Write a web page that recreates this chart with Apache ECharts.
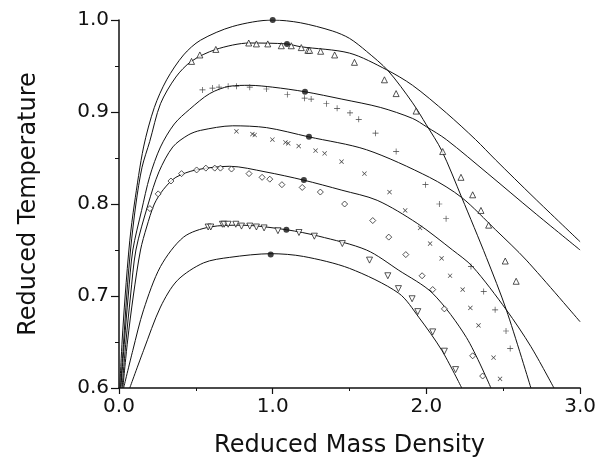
<!DOCTYPE html>
<html>
<head>
<meta charset="utf-8">
<script src="https://cdn.jsdelivr.net/npm/echarts@6/dist/echarts.min.js"></script>
<style>
  html, body { margin: 0; padding: 0; background: #fff; }
  #chart { width: 599px; height: 471px; }
</style>
</head>
<body>
<div id="chart"></div>
<script>
// theory curves, [density, temperature]
const dome1 = [[0.005,0.6],[0.02,0.65],[0.04,0.7],[0.07,0.76],[0.1,0.8],[0.16,0.862],[0.23,0.905],[0.31,0.935],[0.42,0.962],[0.53,0.978],[0.74,0.993],[1.0,1.0],
  [1.18,0.997],[1.39,0.988],[1.5,0.98],[1.61,0.966],[1.75,0.945],[1.91,0.91],[2.0,0.886],[2.1,0.858],[2.23,0.807],[2.39,0.742],[2.52,0.685],[2.68,0.6]];
const dome2 = [[0.01,0.6],[0.03,0.65],[0.05,0.7],[0.075,0.75],[0.11,0.8],[0.15,0.84],[0.2,0.868],[0.27,0.909],[0.37,0.938],[0.47,0.955],[0.63,0.968],[0.85,0.975],[1.09,0.974],
  [1.18,0.971],[1.5,0.964],[1.74,0.946],[1.91,0.929],[2.13,0.899],[2.32,0.87],[2.45,0.848],[2.7,0.807],[3.0,0.759]];
const dome3 = [[0.012,0.6],[0.035,0.65],[0.06,0.7],[0.09,0.75],[0.147,0.793],[0.2,0.83],[0.27,0.862],[0.36,0.887],[0.46,0.903],[0.59,0.92],[0.72,0.928],[0.85,0.929],[1.0,0.927],[1.21,0.922],
  [1.45,0.914],[1.7,0.905],[1.91,0.893],[2.0,0.884],[2.13,0.87],[2.4,0.833],[2.7,0.791],[3.0,0.75]];
const dome4 = [[0.02,0.6],[0.045,0.65],[0.075,0.7],[0.11,0.75],[0.19,0.8],[0.26,0.835],[0.35,0.862],[0.45,0.875],[0.53,0.88],[0.74,0.885],[0.96,0.883],[1.234,0.873],
  [1.61,0.859],[2.02,0.829],[2.23,0.807],[2.45,0.772],[2.65,0.739],[3.0,0.672]];
const dome5 = [[0.025,0.6],[0.055,0.65],[0.093,0.7],[0.14,0.75],[0.18,0.775],[0.23,0.8],[0.29,0.816],[0.37,0.829],[0.5,0.837],[0.72,0.841],[0.95,0.835],[1.2,0.826],
  [1.45,0.815],[1.68,0.804],[1.94,0.779],[2.17,0.75],[2.3,0.732],[2.52,0.685],[2.68,0.645],[2.83,0.6]];
const dome6 = [[0.03,0.6],[0.09,0.641],[0.16,0.685],[0.27,0.732],[0.42,0.764],[0.59,0.775],[0.8,0.777],[1.09,0.772],
  [1.3,0.765],[1.61,0.75],[1.82,0.728],[2.04,0.703],[2.26,0.655],[2.42,0.6]];
const dome7 = [[0.07,0.6],[0.16,0.641],[0.27,0.688],[0.38,0.717],[0.55,0.736],[0.72,0.742],[0.99,0.746],
  [1.2,0.743],[1.5,0.73],[1.82,0.703],[1.95,0.677],[2.1,0.641],[2.23,0.6]];

// critical points
const critical = [[1.0,1.0],[1.093,0.974],[1.21,0.922],[1.236,0.873],[1.203,0.826],[1.089,0.772],[0.987,0.745]];

// simulation points
const triUp = [[0.472,0.955],[0.526,0.962],[0.63,0.968],[0.844,0.975],[0.894,0.974],[0.968,0.974],[1.056,0.972],[1.121,0.972],[1.186,0.97],[1.229,0.967],[1.24,0.967],[1.312,0.966],[1.403,0.962],
  [1.532,0.954],[1.727,0.935],[1.803,0.92],[1.933,0.901],[2.106,0.857],[2.225,0.829],[2.301,0.81],[2.355,0.793],[2.405,0.777],[2.513,0.738],[2.584,0.716]];
const plus = [[0.543,0.924],[0.608,0.926],[0.651,0.927],[0.71,0.928],[0.764,0.928],[0.851,0.927],[0.959,0.925],[1.095,0.919],[1.208,0.915],[1.25,0.914],[1.349,0.909],[1.419,0.904],[1.503,0.899],
  [1.56,0.892],[1.669,0.877],[1.803,0.857],[1.994,0.821],[2.084,0.8],[2.128,0.784],[2.29,0.732],[2.373,0.705],[2.447,0.685],[2.518,0.662],[2.545,0.643]];
const cross = [[0.764,0.879],[0.868,0.876],[0.883,0.875],[0.998,0.87],[1.083,0.867],[1.101,0.866],[1.169,0.863],[1.279,0.858],[1.338,0.855],[1.448,0.846],[1.597,0.833],[1.76,0.813],[1.862,0.793],
  [1.959,0.774],[2.024,0.757],[2.099,0.741],[2.154,0.722],[2.236,0.707],[2.286,0.687],[2.339,0.668],[2.437,0.633],[2.479,0.61]];
const diamond = [[0.201,0.795],[0.255,0.811],[0.338,0.825],[0.407,0.833],[0.505,0.837],[0.565,0.839],[0.623,0.839],[0.66,0.839],[0.732,0.838],[0.846,0.833],[0.931,0.829],[0.981,0.827],[1.06,0.821],
  [1.192,0.818],[1.31,0.813],[1.468,0.8],[1.651,0.782],[1.755,0.764],[1.866,0.745],[1.972,0.722],[2.041,0.707],[2.117,0.686],[2.301,0.635],[2.366,0.613]];
const triDown = [[0.58,0.775],[0.597,0.775],[0.673,0.778],[0.684,0.778],[0.71,0.778],[0.76,0.778],[0.797,0.776],[0.851,0.776],[0.894,0.775],[0.944,0.774],[1.034,0.771],[1.171,0.769],[1.271,0.765],
  [1.453,0.757],[1.63,0.739],[1.749,0.722],[1.818,0.708],[1.907,0.697],[1.944,0.683],[2.041,0.661],[2.117,0.64],[2.19,0.62]];

const xTicks = [0, 1, 2, 3];
const yTicks = [0.6, 0.7, 0.8, 0.9, 1.0];

const FONT = 'DejaVu Sans';
const plusPath = 'path://M4.45,0H5.55V4.45H10V5.55H5.55V10H4.45V5.55H0V4.45H4.45Z';

let myChart = echarts.init(document.getElementById('chart'));

function curve(data) {
    return {
        type: 'line',
        data: data,
        smooth: 0.3,
        showSymbol: false,
        symbol: 'none',
        lineStyle: { color: '#111', width: 1 },
        z: 2
    };
}

function marks(data, symbol, size, open, rotate) {
    return {
        type: 'scatter',
        data: data,
        symbol: symbol,
        symbolSize: size,
        symbolRotate: rotate || 0,
        itemStyle: open
            ? { color: '#fff', borderColor: '#111', borderWidth: 0.9 }
            : { color: '#111', borderWidth: 0 },
        z: 3
    };
}

let option = {
    animation: false,
    backgroundColor: '#fff',
    grid: { left: 119, right: 18, top: 20, bottom: 83 },
    xAxis: {
        type: 'value',
        min: xTicks[0],
        max: xTicks[xTicks.length - 1],
        interval: 1,
        name: 'Reduced Mass Density',
        nameLocation: 'middle',
        nameGap: 46,
        nameTextStyle: { fontFamily: FONT, fontSize: 24, color: '#111' },
        axisLine: { onZero: false, lineStyle: { color: '#111', width: 1.5 } },
        axisTick: { show: true, length: 6, lineStyle: { color: '#111', width: 1.2 } },
        minorTick: { show: true, splitNumber: 2, length: 3, lineStyle: { color: '#111' } },
        splitLine: { show: false },
        axisLabel: {
            margin: 9,
            fontFamily: FONT, fontSize: 20, color: '#111',
            formatter: v => v.toFixed(1)
        }
    },
    yAxis: {
        type: 'value',
        min: yTicks[0],
        max: yTicks[yTicks.length - 1],
        interval: 0.1,
        name: 'Reduced Temperature',
        nameLocation: 'middle',
        nameRotate: 90,
        nameGap: 78,
        nameTextStyle: { fontFamily: FONT, fontSize: 24, color: '#111' },
        axisLine: { show: true, onZero: false, lineStyle: { color: '#111', width: 1.5 } },
        axisTick: { show: true, length: 8, lineStyle: { color: '#111', width: 1.2 } },
        minorTick: { show: true, splitNumber: 2, length: 4, lineStyle: { color: '#111' } },
        splitLine: { show: false },
        axisLabel: {
            margin: 10,
            fontFamily: FONT, fontSize: 20, color: '#111',
            formatter: v => v.toFixed(1)
        }
    },
    series: [
        curve(dome1), curve(dome2), curve(dome3), curve(dome4),
        curve(dome5), curve(dome6), curve(dome7),
        marks(triUp, 'triangle', 6, true),
        marks(plus, plusPath, 6, false),
        marks(cross, plusPath, 6, false, 45),
        marks(diamond, 'diamond', 6, true),
        marks(triDown, 'triangle', 6, true, 180),
        marks(critical, 'circle', 6, false)
    ]
};

myChart.setOption(option);
</script>
</body>
</html>
